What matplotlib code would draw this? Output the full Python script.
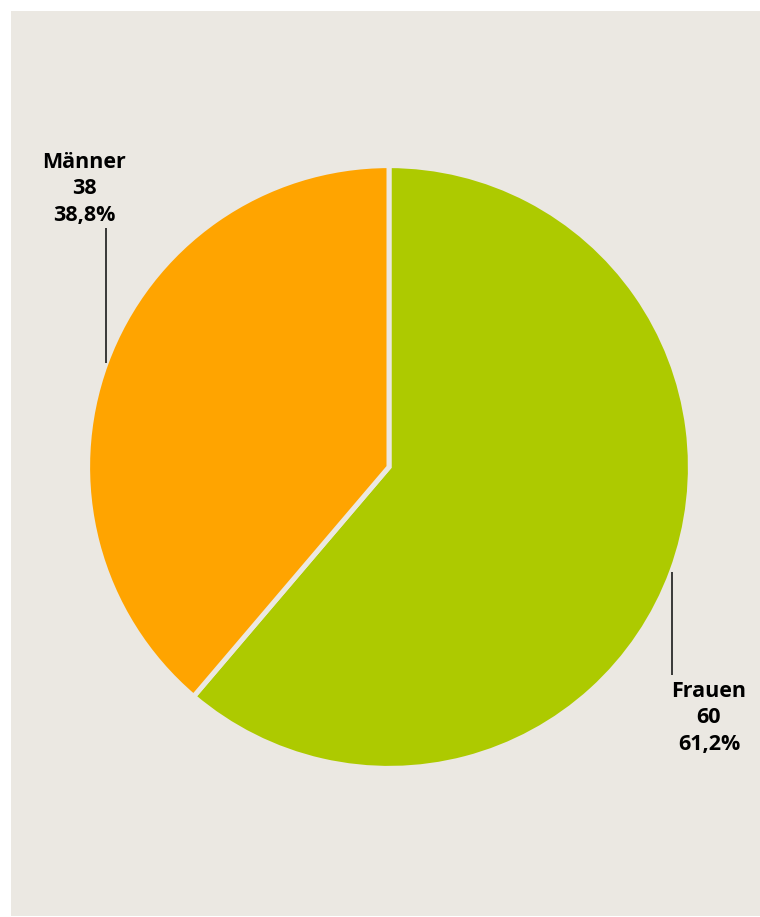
import matplotlib.pyplot as plt
from matplotlib.patches import Rectangle

# Data
labels = ["Frauen", "Männer"]
counts = [60, 38]
colors = ["#adca00", "#ffa400"]

panel_color = "#ebe8e2"
line_color = "#2b2b2b"

plt.rcParams["font.family"] = ["Open Sans", "DejaVu Sans"]

W, H = 760, 917
fig = plt.figure(figsize=(W / 100, H / 100), dpi=100)
fig.patch.set_facecolor("white")

# beige panel behind everything
panel = Rectangle((11 / W, 1 / H), (W - 11) / W, (H - 12) / H,
                  transform=fig.transFigure, facecolor=panel_color,
                  edgecolor="none", zorder=-10)
fig.add_artist(panel)

# pie axes: centre (389, 467) px, radius 299 px
cx, cy, r = 389, 467, 299
ax = fig.add_axes([(cx - r) / W, (H - cy - r) / H, 2 * r / W, 2 * r / H])
ax.set_zorder(1)
ax.axis("off")

ax.pie(counts, colors=colors, startangle=90, counterclock=False,
       radius=1.008, center=(0, 0),
       wedgeprops=dict(edgecolor=panel_color, linewidth=3.6))
ax.set_xlim(-1, 1)
ax.set_ylim(-1, 1)
ax.set_aspect("equal")

total = sum(counts)
pcts = [f"{100 * c / total:.1f}".replace(".", ",") + "%" for c in counts]

# label anchors (data coords of the pie axes)
label_x = {"Frauen": 1.07, "Männer": -1.02}
label_y = {"Frauen": -0.769, "Männer": 1.0}
leader = {"Frauen": (0.946, -0.351, -0.696), "Männer": (-0.946, 0.348, 0.799)}
step = 0.088

for name, n, pct in zip(labels, counts, pcts):
    x0, y0 = label_x[name], label_y[name]
    for i, s in enumerate([name, str(n), pct]):
        ax.text(x0, y0 - i * step, s, ha="center", va="baseline",
                fontsize=15.5, fontweight="bold", color="black", clip_on=False)
    lx, ly1, ly2 = leader[name]
    ax.plot([lx, lx], [ly1, ly2], color=line_color, lw=1.3,
            solid_capstyle="butt", clip_on=False)

fig.savefig("out.png", dpi=100, facecolor=fig.get_facecolor())
